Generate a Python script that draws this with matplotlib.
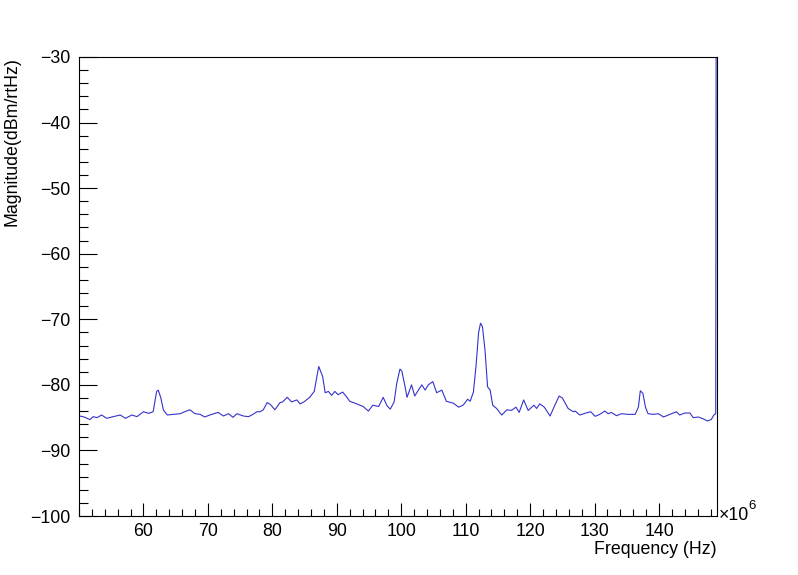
import matplotlib
matplotlib.use("Agg")
import matplotlib.pyplot as plt
from matplotlib.ticker import MultipleLocator, FixedLocator

plt.rcParams['font.family'] = ['Liberation Sans', 'DejaVu Sans']

# spectrum (MHz, dBm/rtHz)
freq = [50.1, 50.8, 51.7, 52.2, 52.8, 53.5, 54.3, 55.3, 56.4, 57.2, 58.2, 59.0,
        60.0, 60.8, 61.5, 62.05, 62.3, 62.7, 63.1, 63.7, 64.6, 65.7, 66.4, 67.2,
        68.0, 68.8, 69.5, 70.3, 71.6, 72.4, 73.2, 73.9, 74.5, 75.5, 76.3, 77.0,
        77.6, 78.1, 78.6, 79.2, 79.7, 80.4, 81.2, 81.6, 82.3, 83.0, 83.8, 84.3,
        84.9, 85.8, 86.5, 87.2, 87.8, 88.2, 88.7, 89.2, 89.7, 90.2, 90.9, 91.5,
        92.0, 93.1, 94.1, 94.9, 95.6, 96.5, 97.2, 97.8, 98.3, 98.9, 99.3, 99.8,
        100.1, 100.6, 100.9, 101.6, 102.1, 102.6, 103.2, 103.7, 104.2, 104.9, 105.5, 106.3,
        107.0, 108.1, 108.9, 109.6, 110.3, 110.7, 111.2, 111.6, 112.0, 112.3, 112.6, 113.0,
        113.4, 113.8, 114.2, 114.8, 115.6, 116.4, 117.1, 117.8, 118.3, 119.0, 119.7, 120.6,
        121.0, 121.5, 122.2, 123.1, 123.7, 124.5, 125.0, 125.9, 126.7, 127.0, 127.7, 128.8,
        129.4, 130.1, 130.8, 131.6, 132.1, 132.6, 133.4, 134.2, 135.2, 136.3, 136.8, 137.1,
        137.5, 137.9, 138.3, 139.1, 139.9, 140.7, 141.7, 142.7, 143.2, 144.0, 144.8, 145.3,
        146.1, 146.9, 147.5, 148.1, 148.5, 148.8, 148.9]
mag = [-84.75, -84.9, -85.3, -84.85, -85.0, -84.6, -85.1, -84.85, -84.6, -85.1, -84.6, -84.85,
       -84.1, -84.35, -84.1, -81.0, -80.8, -82.0, -83.85, -84.6, -84.5, -84.4, -84.1, -83.8,
       -84.4, -84.5, -84.9, -84.6, -84.2, -84.75, -84.4, -84.95, -84.4, -84.75, -84.85, -84.5,
       -84.1, -84.1, -83.8, -82.7, -83.0, -83.8, -82.7, -82.6, -81.9, -82.6, -82.3, -82.9,
       -82.6, -81.9, -81.0, -77.2, -78.7, -81.2, -81.0, -81.6, -81.0, -81.5, -81.1, -81.8,
       -82.5, -82.9, -83.3, -84.0, -83.1, -83.3, -81.9, -83.2, -83.7, -82.6, -79.8, -77.6,
       -77.9, -80.3, -81.9, -80.0, -81.7, -80.9, -80.0, -80.8, -80.0, -79.5, -81.2, -80.8,
       -82.5, -82.8, -83.4, -83.1, -82.2, -82.5, -81.1, -77.2, -72.1, -70.6, -71.1, -74.7,
       -80.3, -80.8, -83.1, -83.6, -84.6, -83.8, -83.9, -83.4, -84.2, -82.3, -83.9, -83.1,
       -83.6, -82.9, -83.4, -84.75, -83.4, -81.7, -82.0, -83.6, -84.1, -84.0, -84.6, -84.25,
       -84.1, -84.8, -84.5, -84.0, -84.4, -84.2, -84.7, -84.4, -84.5, -84.5, -83.4, -80.9,
       -81.3, -83.4, -84.4, -84.5, -84.4, -84.9, -84.5, -84.1, -84.6, -84.3, -84.3, -85.0,
       -84.9, -85.2, -85.5, -85.3, -84.6, -84.4, 0.0]

xticks = [60, 70, 80, 90, 100, 110, 120, 130, 140]

fig = plt.figure(figsize=(7.98, 5.75), dpi=100)
ax = fig.add_axes([0.099, 0.1026, 0.7995, 0.7983])

ax.plot(freq, mag, color='#3333cc', lw=0.8)

ax.set_xlim(50, 149)
ax.set_ylim(-100, -30)
ax.xaxis.set_major_locator(FixedLocator(xticks))
ax.xaxis.set_minor_locator(MultipleLocator(2))
ax.yaxis.set_major_locator(MultipleLocator(10))
ax.yaxis.set_minor_locator(MultipleLocator(2))

ax.tick_params(axis='x', which='major', direction='in', length=9.5, width=0.8, labelsize=12.8, pad=5)
ax.tick_params(axis='x', which='minor', direction='in', length=4.7, width=0.8)
ax.tick_params(axis='y', which='major', direction='in', length=13, width=0.8, labelsize=12.8, pad=6)
ax.tick_params(axis='y', which='minor', direction='in', length=6.5, width=0.8)
for s in ax.spines.values():
    s.set_linewidth(0.8)

fig.text(0.8985, 0.036, 'Frequency (Hz)', ha='right', va='baseline', fontsize=12.8)
fig.text(0.015, 0.9009, 'Magnitude(dBm/rtHz)', ha='center', va='top', rotation=90, fontsize=12.8)
fig.text(0.901, 0.0957, '\u00d710', ha='left', va='baseline', fontsize=12.8)
fig.text(0.9375, 0.114, '6', ha='left', va='baseline', fontsize=9.5)

fig.savefig('out.png', dpi=100)
